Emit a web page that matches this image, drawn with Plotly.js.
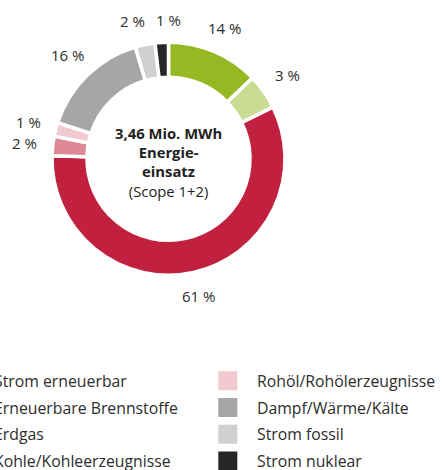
<!DOCTYPE html>
<html><head><meta charset="utf-8">
<script src="https://cdn.plot.ly/plotly-3.0.1.min.js"></script>
<style>html,body{margin:0;padding:0;background:#fff;} #chart{width:442px;height:470px;}</style>
</head><body><div id="chart"></div>
<script>
// Categories (slice / legend order)
const categories = ["Strom erneuerbar", "Erneuerbare Brennstoffe", "Erdgas", "Kohle/Kohleerzeugnisse",
                    "Rohöl/Rohölerzeugnisse", "Dampf/Wärme/Kälte", "Strom fossil", "Strom nuklear"];
// Printed percentage labels
const percentLabels = [14, 3, 61, 2, 1, 16, 2, 1];
// Slice sizes as drawn in the picture (small slices are drawn enlarged)
const sliceShares = [12.8, 4.9, 57.7, 2.7, 1.9, 15.4, 2.75, 1.85];
const sliceColors = ["#96b822", "#cbdb94", "#c1213f", "#dc8995", "#f3c9d1", "#a6a6a6", "#d0d0d0", "#262626"];
const centerLines = ["3,46 Mio. MWh", "Energie-", "einsatz", "(Scope 1+2)"];
const centerBold = [true, true, true, false];

const W = 442, H = 470;
const FONT = "Open Sans, sans-serif";
const TXT = "#2d2d2d";
const domX = [52 / W, 285 / W];
const domY = [1 - 275.2 / H, 1 - 42.2 / H];

const cxPx = (domX[0] + domX[1]) / 2 * W;
const cyPx = (1 - (domY[0] + domY[1]) / 2) * H;
const rPx = Math.min((domX[1] - domX[0]) * W, (domY[1] - domY[0]) * H) / 2;

const annotations = [];
// percentage labels placed just outside each slice at its mid angle
const total = sliceShares.reduce((a, b) => a + b, 0);
let cum = 0;
const lbl = sliceShares.map((v, i) => {
  const mid = (cum + v / 2) / total;
  cum += v;
  const ang = mid * 2 * Math.PI;
  const s = Math.sin(ang), c = Math.cos(ang);
  const R = rPx * 1.133 + 12 * Math.abs(s) + 6 * Math.abs(c);
  const text = percentLabels[i] + " %";
  const w = 8.6 * String(percentLabels[i]).length + 13;
  return {x: cxPx + R * s, y: cyPx - R * c, text: text, w: w};
});
// simple collision avoidance: push neighbouring labels apart horizontally
for (let i = 0; i < lbl.length; i++) {
  for (let j = i + 1; j < lbl.length; j++) {
    const a = lbl[i], b = lbl[j];
    if (Math.abs(a.y - b.y) < 14) {
      const need = (a.w + b.w) / 2 + 14;
      const dx = b.x - a.x;
      if (Math.abs(dx) < need) {
        const push = (need - Math.abs(dx)) / 2 * (dx >= 0 ? 1 : -1);
        a.x -= push; b.x += push;
      }
    }
  }
}
lbl.forEach(L => {
  annotations.push({
    x: L.x / W, y: 1 - L.y / H, xref: "paper", yref: "paper",
    text: L.text, showarrow: false,
    xanchor: "center", yanchor: "middle",
    font: {family: FONT, size: 15, color: TXT}
  });
});

// center text
annotations.push({
  x: cxPx / W, y: 1 - (cyPx + 3) / H, xref: "paper", yref: "paper",
  text: centerLines.map((t, k) => centerBold[k] ? "<b>" + t + "</b>" : t).join("<br>"),
  showarrow: false, align: "center", xanchor: "center", yanchor: "middle",
  font: {family: FONT, size: 14.8, color: "#1e1e1e"}
});

// legend (two columns, four rows)
const shapes = [];
const colSymbolX = [-35.7, 227.8];
const colTextX = [-8.5, 255];
const rowY = [380.7, 407.5, 434.2, 461];
const sym = 19;
categories.forEach((name, i) => {
  const col = Math.floor(i / 4), row = i % 4;
  const sx = colSymbolX[col], sy = rowY[row];
  shapes.push({
    type: "rect", xref: "paper", yref: "paper",
    x0: (sx - sym / 2) / W, x1: (sx + sym / 2) / W,
    y0: 1 - (sy + sym / 2) / H, y1: 1 - (sy - sym / 2) / H,
    fillcolor: sliceColors[i], line: {width: 0}
  });
  annotations.push({
    x: colTextX[col] / W, y: 1 - sy / H, xref: "paper", yref: "paper",
    text: name, showarrow: false, xanchor: "left", yanchor: "middle",
    font: {family: FONT, size: 15.8, color: TXT}
  });
});

const data = [{
  type: "pie",
  labels: categories,
  values: sliceShares,
  sort: false,
  direction: "clockwise",
  rotation: 0,
  hole: 0.70,
  domain: {x: domX, y: domY},
  marker: {colors: sliceColors, line: {color: "#ffffff", width: 3.5}},
  textinfo: "none",
  hoverinfo: "skip",
  showlegend: false
}];

const layout = {
  width: W, height: H,
  margin: {l: 0, r: 0, t: 0, b: 0},
  paper_bgcolor: "#ffffff",
  showlegend: false,
  annotations: annotations,
  shapes: shapes,
  font: {family: FONT}
};

Plotly.newPlot("chart", data, layout, {displayModeBar: false, staticPlot: true});
</script>
</body></html>
